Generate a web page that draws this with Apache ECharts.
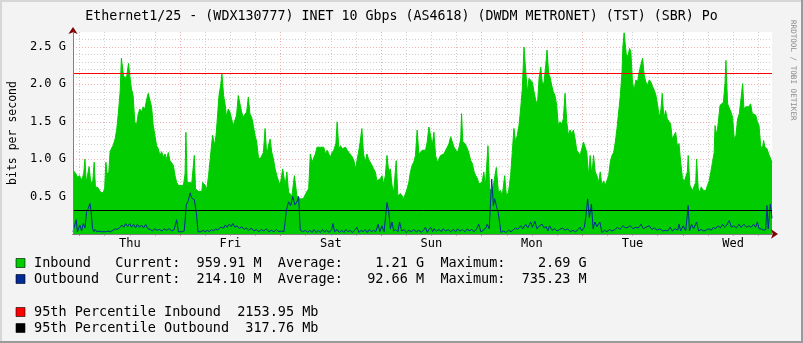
<!DOCTYPE html>
<html><head><meta charset="utf-8">
<script src="https://cdn.jsdelivr.net/npm/echarts@6/dist/echarts.min.js"></script>
<style>html,body{margin:0;padding:0;background:#f3f3f3}#c{width:803px;height:343px}</style>
</head><body><div id="c"></div><script>
// ---------- DATA ----------
const chartTitle = 'Ethernet1/25 - (WDX130777) INET 10 Gbps (AS4618) (DWDM METRONET) (TST) (SBR) Po';
const dayNames = ['Thu','Fri','Sat','Sun','Mon','Tue','Wed'];
const yTickValues = [0.5, 1.0, 1.5, 2.0, 2.5];   // G
// time in hours after Thursday 00:00
const inboundHours = [
-1.55,-1.0,-0.5,0,0.5,1.0,1.3,1.6,2.0,2.3,
2.7,3.2,3.5,3.8,4.4,5.0,5.6,6.0,6.3,6.6,
7.0,7.3,7.7,8.0,8.5,8.9,9.3,9.7,10.0,10.5,
10.9,11.3,11.7,12.0,12.4,12.8,13.2,13.6,14.0,14.4,
14.8,15.2,15.6,16.0,16.4,16.8,17.2,17.6,18.0,18.4,
18.8,19.2,19.6,20.0,20.4,20.8,21.2,21.6,22.0,22.4,
22.8,23.2,23.6,24.0,24.8,25.2,25.4,25.7,26.2,26.8,
27.4,27.7,28.4,29.2,29.4,30.0,30.4,30.8,31.2,31.6,
31.8,32.2,32.6,32.9,33.3,33.7,34.0,34.4,34.8,35.1,
35.5,35.9,36.3,36.7,37.1,37.5,37.9,38.3,38.7,39.1,
39.5,39.9,40.3,40.7,41.1,41.5,41.9,42.3,42.7,43.1,
43.5,43.9,44.3,44.7,45.1,45.5,45.9,46.3,46.7,47.1,
47.5,47.9,48.5,49.1,49.5,49.9,50.7,51.3,51.9,52.7,
53.4,54.2,54.7,55.1,55.5,55.9,56.3,56.7,57.1,57.5,
57.9,58.3,58.7,59.1,59.5,59.9,60.3,60.7,61.2,61.5,
61.9,62.3,62.7,63.1,63.5,63.9,64.3,64.7,65.1,65.5,
65.9,66.3,66.6,67.0,67.4,67.8,68.2,68.6,69.0,69.4,
69.8,70.2,70.6,71.0,71.4,71.8,72.2,72.6,73.0,73.4,
73.8,74.2,74.6,75.0,75.6,76.0,76.6,77.0,77.4,77.8,
78.2,78.6,79.0,79.4,79.8,80.2,80.6,81.0,81.4,81.8,
82.2,82.6,83.0,83.4,83.8,84.2,84.6,85.0,85.4,85.8,
86.2,86.6,87.0,87.4,87.8,88.2,88.6,89.0,89.4,89.8,
90.2,90.6,91.0,91.2,91.5,92.0,92.6,93.0,93.4,93.8,
94.2,94.6,95.0,95.3,95.7,96.1,96.5,96.9,97.5,97.9,
98.5,98.9,99.5,100.0,100.5,100.9,101.5,101.9,102.4,102.9,
103.3,103.7,104.1,104.5,104.9,105.3,105.7,106.1,106.5,106.9,
107.3,107.7,108.1,108.5,108.9,109.3,109.7,110.1,110.5,110.9,
111.3,111.6,112.0,112.3,112.7,113.1,113.5,113.9,114.3,114.7,
115.1,115.5,115.9,116.3,116.7,117.1,117.5,117.9,118.3,118.7,
119.1,119.5,119.9,120.3,120.7,121.1,121.5,121.9,122.3,122.7,
123.1,123.5,123.9,124.3,124.7,125.1,125.5,125.9,126.3,126.7,
127.1,127.5,127.9,128.3,128.7,129.1,129.5,129.7,130.0,130.5,
130.9,131.3,131.6,132.0,132.4,132.8,133.2,133.6,134.0,134.4,
134.8,135.2,135.6,136.0,136.4,136.8,137.2,137.6,138.0,138.4,
138.8,139.1,139.5,139.9,140.3,140.7,141.1,141.5,141.9,142.3,
142.7,143.1,143.5,143.9,144.3,144.7,145.1,145.3,145.7,146.3,
146.7,147.1,147.3,147.7,148.1,148.4,148.9,149.5,149.9,150.3,
150.7,151.1,151.5,151.7,152.1,152.5,152.9,153.3,153.7,154.1,
154.3,154.7,155.1,155.5,155.9,156.3,156.7,157.1,157.5,157.9,
158.3,158.6,159.0,159.4,159.8,160.2,160.6,161.0,161.4,161.8,
162.2,162.6,163.0,163.3,163.6,164.1,164.5,164.9,165.3];
const inboundGbps = [
0.85,0.82,0.76,0.78,0.72,0.80,1.00,0.69,0.70,0.90,
0.67,0.72,0.96,0.63,0.62,0.56,0.55,0.60,0.96,0.80,
0.83,1.10,1.15,1.18,1.27,1.40,1.63,1.90,2.35,2.12,
2.08,2.12,2.28,2.12,1.94,1.85,1.50,1.45,1.60,1.67,
1.63,1.70,1.67,1.79,1.88,1.79,1.70,1.45,1.32,1.18,
1.14,1.05,1.10,1.03,1.07,1.00,1.09,0.98,0.96,0.92,
0.78,0.69,0.65,0.67,0.65,0.80,1.36,0.69,0.69,0.68,
1.05,0.60,0.57,0.57,0.69,0.65,0.60,0.78,1.00,1.23,
1.32,1.18,1.32,1.54,1.85,1.99,2.14,1.85,1.72,1.56,
1.67,1.63,1.54,1.45,1.45,1.59,1.85,1.74,1.63,1.56,
1.60,1.63,1.83,1.60,1.56,1.45,1.32,1.23,1.03,1.00,
0.98,1.09,1.41,1.05,1.18,1.27,1.09,1.00,0.87,0.78,
0.71,0.65,0.87,0.65,0.83,0.56,0.51,0.78,0.51,0.47,
0.47,0.56,0.60,1.07,0.96,0.94,1.07,1.16,1.18,1.16,
1.18,1.16,1.07,1.12,1.07,1.03,1.09,1.12,1.21,1.50,
1.14,1.18,1.14,1.14,1.16,1.12,1.09,1.07,1.03,0.98,
0.87,1.00,1.09,1.23,1.41,1.07,0.96,1.07,1.00,0.96,
0.92,0.87,0.83,0.71,0.69,0.74,0.78,0.67,0.78,1.05,
0.83,0.87,0.65,0.56,0.98,0.51,0.54,0.51,0.47,0.54,
0.60,0.69,0.83,0.92,0.96,1.05,1.39,1.07,1.09,1.12,
1.14,1.12,1.23,1.43,1.32,1.18,1.36,1.05,0.96,0.98,
1.05,1.03,1.07,1.12,1.16,1.21,1.30,1.23,1.16,1.16,
1.09,1.16,1.27,1.61,1.23,1.21,1.14,1.07,0.98,0.94,
0.83,0.78,0.74,0.67,0.65,0.69,0.83,0.65,1.18,0.60,
0.58,0.69,0.89,0.56,0.58,0.51,0.78,0.51,0.56,0.78,
1.09,1.41,1.23,1.32,1.45,1.67,1.94,2.50,2.19,1.90,
2.08,2.08,2.03,1.90,1.79,1.72,2.08,2.23,2.00,2.03,
2.26,2.46,2.14,2.10,1.99,1.90,1.85,1.72,1.45,1.50,
1.47,1.54,1.88,1.50,1.32,1.39,1.34,1.39,1.27,1.12,
1.09,1.05,1.03,1.23,1.21,1.09,0.78,1.05,0.78,1.05,
0.83,0.78,0.69,0.83,0.65,0.71,0.65,0.63,0.78,0.96,
1.05,1.09,1.23,1.41,1.63,1.85,2.17,2.50,2.69,2.41,
2.37,2.48,2.44,2.03,1.92,2.06,2.03,2.17,2.26,2.35,
2.12,2.03,1.99,2.06,2.03,1.97,1.92,1.85,1.72,1.56,
1.67,1.88,1.54,1.65,1.54,1.52,1.47,1.27,1.25,1.36,
1.18,1.21,0.96,0.76,0.69,0.67,0.83,1.05,0.65,0.58,
0.56,0.69,1.00,0.60,0.56,0.63,0.58,0.58,0.65,0.71,
0.83,0.96,1.09,1.45,1.32,1.50,1.72,1.74,1.76,2.03,
2.32,1.74,1.72,1.63,1.56,1.27,1.32,1.54,1.61,1.61,
2.01,1.67,1.70,1.72,1.70,1.74,1.61,1.61,1.59,1.50,
1.45,1.18,1.14,1.25,1.16,1.14,1.07,1.05,0.96];
const outboundHours = [
-1.55,-1.2,-0.8,-0.5,0.1,0.5,0.9,1.3,1.7,2.1,
2.5,2.8,3.1,3.4,3.7,4.1,4.6,5.2,5.6,6.2,
6.8,7.4,8.0,8.5,9.0,9.7,10.1,10.6,11.0,11.5,
12.0,12.4,12.9,13.4,13.8,14.3,14.8,15.3,15.8,16.3,
16.9,17.4,17.9,18.5,19.1,19.7,20.2,20.8,21.4,22.0,
22.6,23.2,23.6,24.5,25.0,25.5,26.0,26.4,26.8,27.4,
27.9,28.3,29.0,29.5,30.0,30.5,31.0,31.5,32.0,32.5,
33.0,33.6,34.0,34.4,34.8,35.2,35.7,36.2,36.6,37.1,
37.6,38.2,38.7,39.3,39.8,40.4,41.0,41.6,42.2,42.8,
43.4,44.0,44.6,45.2,45.8,46.4,47.0,47.6,48.2,48.8,
49.4,49.9,50.4,50.9,51.4,51.9,52.3,52.7,53.3,53.9,
54.5,55.0,55.5,56.0,56.5,57.0,57.5,58.0,58.5,59.0,
59.6,60.2,60.5,60.9,61.5,62.0,62.6,63.1,63.6,64.1,
64.6,65.1,65.7,66.2,66.7,67.2,67.7,68.2,68.7,69.2,
69.7,70.2,70.7,71.3,71.7,72.2,72.7,73.1,73.4,73.8,
74.2,74.6,75.0,75.5,76.0,76.4,76.9,77.5,78.0,78.6,
79.2,79.8,80.4,81.0,81.6,82.2,82.6,83.0,83.4,83.8,
84.3,84.6,85.2,85.8,86.4,86.8,87.4,88.0,88.6,89.2,
89.8,90.2,90.8,91.4,92.0,92.6,93.0,93.6,94.2,94.8,
95.3,95.8,96.4,97.0,97.3,97.8,98.4,98.8,99.1,99.5,
100.0,100.3,100.6,101.2,101.8,102.4,103.0,103.6,104.1,104.6,
105.3,105.8,106.5,107.0,107.7,108.1,108.7,109.2,109.8,110.4,
110.9,111.4,111.8,112.2,112.8,113.4,114.0,114.6,115.3,115.9,
116.5,117.2,117.8,118.4,119.0,119.5,119.9,120.5,120.9,121.3,
121.7,122.2,122.6,123.0,123.5,124.2,124.7,125.3,125.9,126.5,
127.1,127.8,128.4,129.0,129.7,130.3,130.9,131.5,132.1,132.8,
133.4,134.0,134.6,135.2,136.0,136.6,137.2,137.9,138.5,139.2,
139.8,140.4,141.0,141.5,142.2,142.8,143.1,143.5,144.1,144.7,
145.0,145.3,145.6,146.1,146.6,147.3,147.8,148.4,149.0,149.5,
150.2,150.8,151.3,151.8,152.4,153.0,153.5,154.0,154.5,155.1,
155.6,156.2,156.8,157.4,157.9,158.6,159.2,159.8,160.3,160.9,
161.4,161.8,162.2,162.7,163.3,163.8,164.1,164.4,164.9,165.3];
const outboundGbps = [
0.03,0.03,0.19,0.03,0.12,0.04,0.14,0.08,0.30,0.34,
0.41,0.28,0.08,0.03,0.06,0.03,0.04,0.03,0.05,0.03,
0.04,0.03,0.05,0.07,0.06,0.09,0.12,0.09,0.14,0.10,
0.14,0.09,0.13,0.08,0.13,0.09,0.12,0.08,0.13,0.07,
0.06,0.04,0.07,0.05,0.06,0.04,0.07,0.05,0.07,0.04,
0.06,0.19,0.03,0.03,0.04,0.39,0.45,0.55,0.48,0.46,
0.28,0.03,0.03,0.05,0.03,0.05,0.03,0.06,0.04,0.07,
0.05,0.09,0.10,0.08,0.12,0.09,0.13,0.10,0.14,0.09,
0.11,0.07,0.10,0.06,0.08,0.05,0.08,0.04,0.06,0.03,
0.06,0.04,0.07,0.03,0.05,0.03,0.06,0.03,0.04,0.03,
0.32,0.43,0.38,0.50,0.39,0.43,0.50,0.05,0.03,0.05,
0.02,0.05,0.02,0.06,0.02,0.05,0.02,0.06,0.03,0.05,
0.02,0.06,0.14,0.03,0.06,0.02,0.05,0.02,0.06,0.03,
0.05,0.02,0.05,0.09,0.02,0.05,0.03,0.06,0.02,0.06,
0.03,0.05,0.03,0.13,0.03,0.11,0.03,0.05,0.42,0.31,
0.07,0.16,0.04,0.06,0.03,0.16,0.04,0.06,0.02,0.05,
0.03,0.06,0.03,0.05,0.02,0.06,0.09,0.02,0.06,0.09,
0.03,0.07,0.04,0.06,0.03,0.07,0.04,0.06,0.03,0.06,
0.03,0.07,0.04,0.06,0.03,0.07,0.04,0.06,0.03,0.07,
0.13,0.03,0.05,0.08,0.13,0.07,0.735,0.38,0.47,0.38,
0.27,0.27,0.02,0.04,0.02,0.05,0.03,0.06,0.08,0.06,
0.11,0.07,0.13,0.08,0.16,0.09,0.17,0.07,0.11,0.13,
0.08,0.10,0.04,0.11,0.05,0.07,0.04,0.06,0.08,0.05,
0.07,0.03,0.05,0.03,0.06,0.09,0.04,0.09,0.25,0.47,
0.22,0.40,0.07,0.16,0.10,0.16,0.02,0.05,0.03,0.06,
0.04,0.06,0.09,0.06,0.11,0.08,0.09,0.11,0.07,0.09,
0.08,0.13,0.07,0.09,0.11,0.06,0.08,0.05,0.07,0.04,
0.05,0.04,0.09,0.04,0.07,0.05,0.13,0.04,0.11,0.04,
0.06,0.38,0.04,0.13,0.07,0.16,0.04,0.06,0.04,0.05,
0.07,0.05,0.09,0.07,0.11,0.08,0.13,0.09,0.12,0.18,
0.09,0.11,0.08,0.13,0.09,0.13,0.09,0.11,0.09,0.13,
0.09,0.16,0.07,0.07,0.05,0.06,0.38,0.07,0.40,0.21];
const percentileMb = [2153.95, 317.76];   // 95th inbound, 95th outbound
const legendRows = [
  'Inbound   Current:  959.91 M  Average:    1.21 G  Maximum:    2.69 G',
  'Outbound  Current:  214.10 M  Average:   92.66 M  Maximum:  735.23 M',
  '95th Percentile Inbound  2153.95 Mb',
  '95th Percentile Outbound  317.76 Mb'
];
const legendColors = ['#00cc00', '#002a97', '#ff0000', '#000000'];

// ---------- CHART ----------
const X_MIN = -1.55, X_MAX = 165.3, Y_MAX = 2.7;
const MONO = '"DejaVu Sans Mono", monospace';
const midnights = [], sixHours = [];
for (let h = 0; h <= X_MAX; h += 6) { (h % 24 === 0 ? midnights : sixHours).push(h); }
const noons = dayNames.map((d, i) => 12 + 24 * i);

const inData = inboundHours.map((h, i) => [h, inboundGbps[i]]);
const outData = outboundHours.map((h, i) => [h, outboundGbps[i]]);

const GRID_GRAY = '#cfcfcf', GRID_RED = '#f2b0b0';
const baseX = {type:'value', min:X_MIN, max:X_MAX, position:'bottom', gridIndex:0,
  axisLabel:{show:false}, axisLine:{show:false, onZero:false}, axisTick:{show:false}, splitLine:{show:false}};
const baseY = {type:'value', min:0, max:Y_MAX, position:'left', gridIndex:0,
  axisLabel:{show:false}, axisLine:{show:false, onZero:false}, axisTick:{show:false}, splitLine:{show:false}};

const chart = echarts.init(document.getElementById('c'), null, {renderer:'canvas'});
const legendGraphics = [];
const rowY = [263, 279, 312, 328];
legendRows.forEach((t, i) => {
  legendGraphics.push({type:'rect', x:16, y:rowY[i]-4.5, shape:{width:9, height:9},
    style:{fill:legendColors[i], stroke:'#000', lineWidth:0.6}, silent:true});
  legendGraphics.push({type:'text', x:34, y:rowY[i] + 0.5, silent:true,
    style:{text:t, font:'13.5px ' + MONO, fill:'#000', align:'left', verticalAlign:'middle'}});
});

chart.setOption({
  animation:false,
  backgroundColor:'#f3f3f3',
  title:{text:chartTitle, left:'center', top:5,
    textStyle:{fontFamily:MONO, fontSize:13.3, fontWeight:'normal', color:'#000'}},
  grid:{left:73, right:31, top:32, bottom:109, show:true, backgroundColor:'#ffffff', borderWidth:0,
    containLabel:false, outerBoundsMode:'none'},
  xAxis:[
    Object.assign({}, baseX, {z:0, axisTick:{show:true, length:2, customValues:sixHours, lineStyle:{color:'#bbb'}},
      splitLine:{show:true, lineStyle:{color:GRID_GRAY, type:[1,2], width:1}}}),
    Object.assign({}, baseX, {z:0, axisTick:{show:true, length:2, customValues:midnights, lineStyle:{color:'#e08080'}},
      splitLine:{show:true, lineStyle:{color:GRID_RED, type:[1,2], width:1}}}),
    Object.assign({}, baseX, {z:4, axisLine:{show:true, onZero:false, symbol:['none','arrow'], symbolSize:[7,7], symbolOffset:[0,6],
      lineStyle:{color:'#7f0000', width:1}}}),
    Object.assign({}, baseX, {z:5, axisLine:{show:true, onZero:false, lineStyle:{color:'#808080', width:1}},
      axisLabel:{show:true, customValues:noons, margin:4, fontFamily:MONO, fontSize:12, color:'#000',
        formatter:v => dayNames[Math.round((v - 12) / 24)]}})
  ],
  yAxis:[
    Object.assign({}, baseY, {z:0, interval:0.1,
      splitLine:{show:true, showMaxLine:false, lineStyle:{color:GRID_GRAY, type:[1,2], width:1}}}),
    Object.assign({}, baseY, {z:0, interval:0.5,
      name:'bits per second', nameLocation:'middle', nameGap:54,
      nameTextStyle:{fontFamily:MONO, fontSize:11.5, color:'#000'},
      axisLabel:{show:true, margin:7, fontFamily:MONO, fontSize:12, color:'#000',
        formatter:v => yTickValues.some(t => Math.abs(t - v) < 1e-6) ? v.toFixed(1) + ' G' : ''},
      splitLine:{show:true, showMinLine:false, showMaxLine:false, lineStyle:{color:GRID_RED, type:[1,2], width:1}}}),
    Object.assign({}, baseY, {z:4, axisLine:{show:true, onZero:false, symbol:['none','arrow'], symbolSize:[7,7], symbolOffset:[0,5],
      lineStyle:{color:'#7f0000', width:1}}}),
    Object.assign({}, baseY, {z:5, axisLine:{show:true, onZero:false, lineStyle:{color:'#808080', width:1}}})
  ],
  series:[
    {name:'Inbound', type:'line', xAxisIndex:0, yAxisIndex:0, data:inData, symbol:'none', z:2,
      lineStyle:{color:'#00cc00', width:1}, areaStyle:{color:'#00cc00', opacity:1}, silent:true,
      markLine:{silent:true, symbol:['none','none'], label:{show:false},
        data:[
          {yAxis:percentileMb[0] / 1000, lineStyle:{color:'#ff0000', type:'solid', width:1}},
          {yAxis:percentileMb[1] / 1000, lineStyle:{color:'#000000', type:'solid', width:1}}
        ]}},
    {name:'Outbound', type:'line', xAxisIndex:0, yAxisIndex:0, data:outData, symbol:'none', z:3,
      lineStyle:{color:'#002a97', width:1}, silent:true}
  ],
  graphic:[
    {type:'rect', x:0, y:0, shape:{width:803, height:2}, style:{fill:'#d6d6d6'}, silent:true},
    {type:'rect', x:0, y:0, shape:{width:2, height:343}, style:{fill:'#d6d6d6'}, silent:true},
    {type:'rect', x:801, y:0, shape:{width:2, height:343}, style:{fill:'#9a9a9a'}, silent:true},
    {type:'rect', x:0, y:341, shape:{width:803, height:2}, style:{fill:'#9a9a9a'}, silent:true},
    {type:'text', x:789, y:20, rotation:-Math.PI / 2, silent:true,
      style:{text:'RRDTOOL / TOBI OETIKER', font:'7.6px ' + MONO, fill:'#8c8c8c', align:'left', verticalAlign:'bottom'}}
  ].concat(legendGraphics)
});
</script></body></html>
